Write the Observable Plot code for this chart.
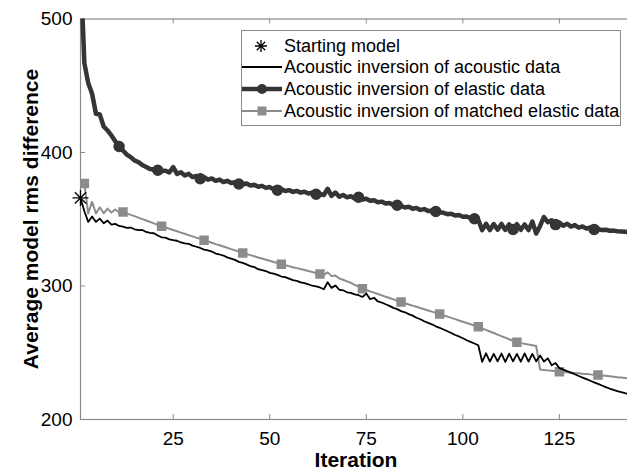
<!DOCTYPE html>
<html><head><meta charset="utf-8">
<script src="https://cdn.jsdelivr.net/npm/d3@7"></script>
<script src="https://cdn.jsdelivr.net/npm/@observablehq/plot@0.6"></script>
<style>
html,body{margin:0;padding:0;overflow:hidden;background:#fff;width:627px;height:473px}
#wrap{position:relative;width:627px;height:473px;overflow:hidden;font-family:"Liberation Sans",Arial,Helvetica,sans-serif;color:#000}
#chart{position:absolute;left:0;top:0}
.title{position:absolute;font-weight:bold;font-size:21px;white-space:nowrap;line-height:1}
#xlab{left:356px;top:449px;transform:translateX(-50%)}
#ylab{left:30px;top:219px;transform:translate(-50%,-50%) rotate(-90deg)}
#legend{position:absolute;left:241px;top:30px;width:380px;height:96px;border:1px solid #8a8a8a;background:#fff;box-sizing:border-box}
.row{position:absolute;left:0;height:22px;width:100%;font-size:18px;line-height:22px;white-space:nowrap}
.row svg{position:absolute;left:0;top:3px}
.row span{position:absolute;left:42px;top:0}
</style></head>
<body><div id="wrap"><div id="chart"></div>
<div id="ylab" class="title">Average model rms difference</div>
<div id="xlab" class="title">Iteration</div>
<div id="legend"></div>
</div>
<script>
// ---- data ----
const xTicks = [25, 50, 75, 100, 125];
const yTicks = [200, 300, 400, 500];

const startIter = [1];
const startVal = [366];

// Acoustic inversion of acoustic data, iterations 1..143
const acousticStart = 1;
const acousticVals = [366,356,348,352,348,350.5,347,349,346,346.5,345,344.5,343.5,343.8,342.5,341.8,342,340.5,339.8,339.5,
337.8,336.5,336.2,334.9,334.3,333.9,332.6,331.9,331.6,330.2,329.4,328.5,327.2,326.6,325.8,324.3,323.6,322.8,321.4,320.5,
319.6,318.1,317.3,316.2,314.8,314.2,312.6,311.9,311.2,309.8,309.2,308.3,307.1,306.6,305.5,304.4,303.9,302.7,302.1,301.3,
300.2,299.8,298.9,297.6,302.8,298.6,300.4,297.2,296.8,295.3,294.9,293.7,293.1,291.8,294.3,290.1,291.2,288.4,287.6,286.3,
285.1,283.6,282.7,281.2,280.3,278.9,277.8,276.2,275.1,273.6,272.4,271.3,269.8,268.7,267.4,266.1,264.8,263.3,262.2,260.9,
259.4,258.1,256.9,255.6,243.2,249.6,243.4,249.2,243.5,249.4,243.1,249.3,243.6,249.1,243.3,249.5,243.4,249.2,243.6,248,
243.5,245.8,240.6,242.3,238.5,237.4,236.2,235.1,233.9,232.6,231.4,230.2,229,227.8,226.7,225.5,224.3,223.2,222.2,221.3,
220.5,219.7,219];

// Acoustic inversion of elastic data, iterations 1..143
const elasticStart = 1;
const elasticVals = [540,467,452,444,429,428.5,419.5,416.5,412.8,408.5,404.5,401.5,398.4,396.5,394,392.8,390.6,389.2,387.6,387.2,
386.7,385.9,386.4,385,389,384,385.2,382.8,384,381.6,382.4,380.4,381.5,379.6,380.6,378.8,379.7,377.9,378.8,377.2,
377.8,376.4,376,376.8,375.2,375.9,374.4,375,373.5,374.1,372.4,371.8,372.6,371.2,371.8,370.5,371.2,370,370.6,369.3,
369.8,368.7,368.9,368.2,372.8,367.5,370,366.8,368.2,366.4,367.2,365.6,366.5,364.8,365.4,363.8,364.3,362.8,363.2,361.8,
362.2,360.6,360.5,360.1,358.8,359.4,357.9,358.5,357,357.6,356.1,356.6,355.8,355.2,354.8,353.8,354.1,352.8,353.2,351.8,
352.1,350.8,350.4,349.6,341.8,346.6,341.9,346.4,342.2,346.5,342,346.2,342.4,346.3,342.1,346.1,341.9,348.2,339.3,345,
351.7,347.8,349.3,346,347.5,345.2,346.6,344.5,345.6,343.7,344.6,343,343.8,342.4,342.8,341.9,342.2,341.4,341.5,341,
340.8,340.6,340.4];
const elasticMarkerIters = [11,21,32,42,52,62,73,83,93,103,113,124,134];

// Acoustic inversion of matched elastic data, iterations 2..143
const matchedStart = 2;
const matchedVals = [376.7,354.3,363,354.3,359,354.5,358,355,357.3,355,355.5,354.4,353.3,352.3,351.2,350.1,349.1,348,346.9,345.9,
344.8,343.8,342.9,341.9,341,340,339.1,338.1,337.2,336.2,335.3,334.3,333.4,332.4,331.4,330.5,329.6,328.6,327.6,326.7,
325.8,324.8,324,323.1,322.3,321.4,320.6,319.7,318.9,318,317.2,316.3,315.6,314.9,314.1,313.4,312.7,312,311.2,310.5,
309.8,309,308.3,310.2,307.4,307.8,305.6,304.7,303.5,302.4,300.8,299.6,298,297,296,295,294,293,292,291,
290,289,288,287.1,286.2,285.3,284.4,283.5,282.6,281.7,280.8,279.9,279,278,277.1,276.1,275.2,274.2,273.2,272.3,
271.3,270.4,269.4,268.2,267.1,265.9,264.8,263.6,262.4,261.3,260.1,259,257.8,257.2,256.7,256.1,255.6,255,237.4,237.1,
236.8,236.5,236.1,235.8,235.6,235.3,235.1,234.8,234.6,234.3,234.1,233.8,233.6,233.3,233,232.7,232.4,232.1,231.7,231.4,
231.1,230.8];
const matchedMarkerIters = [2,12,22,33,43,53,63,74,84,94,104,114,125,135];

const seriesNames = ["Starting model","Acoustic inversion of acoustic data","Acoustic inversion of elastic data","Acoustic inversion of matched elastic data"];

// ---- build tables ----
const toRows = (start, vals) => vals.map((v, i) => ({it: start + i, v}));
const acoustic = toRows(acousticStart, acousticVals);
const elastic = toRows(elasticStart, elasticVals);
const matched = toRows(matchedStart, matchedVals);
const elasticMarks = elastic.filter(d => elasticMarkerIters.includes(d.it));
const matchedMarks = matched.filter(d => matchedMarkerIters.includes(d.it));
const start = startIter.map((it, i) => ({it, v: startVal[i]}));

const C_DARK = "#353535", C_GRAY = "#8c8c8c", C_AXIS = "#8a8a8a";

const asterisk8 = {draw(ctx, size) {
  const r = Math.sqrt(size / Math.PI), d = r * Math.SQRT1_2;
  ctx.moveTo(-r, 0); ctx.lineTo(r, 0);
  ctx.moveTo(0, -r); ctx.lineTo(0, r);
  ctx.moveTo(-d, -d); ctx.lineTo(d, d);
  ctx.moveTo(-d, d); ctx.lineTo(d, -d);
}};

const W = 640, H = 473, ML = 80, MR = 0, MT = 18.5, MB = 54;
const plotW = W - ML - MR, plotH = H - MT - MB;

const chart = Plot.plot({
  width: W, height: H,
  marginLeft: ML, marginRight: MR, marginTop: MT, marginBottom: MB,
  style: {fontFamily: "'Liberation Sans', Arial, Helvetica, sans-serif", fontSize: "19px", color: "#000", background: "transparent", maxWidth: "none", overflow: "hidden"},
  x: {domain: [1, 146]},
  y: {domain: [200, 500]},
  marks: [
    Plot.frame({stroke: C_AXIS, strokeWidth: 1.2}),
    Plot.tickX(xTicks, {x: d => d, stroke: C_AXIS, insetTop: plotH - 5}),
    Plot.tickX(xTicks, {x: d => d, stroke: C_AXIS, insetBottom: plotH - 5}),
    Plot.tickY(yTicks, {y: d => d, stroke: C_AXIS, insetRight: plotW - 5}),
    Plot.axisX({ticks: xTicks, tickSize: 0, tickPadding: 12, fontSize: 19, label: null}),
    Plot.axisY({ticks: yTicks, tickSize: 0, tickPadding: 8, fontSize: 19, label: null}),
    Plot.line(elastic, {x: "it", y: "v", stroke: C_DARK, strokeWidth: 4.5, clip: true}),
    Plot.dot(elasticMarks, {x: "it", y: "v", r: 5, fill: C_DARK, stroke: C_DARK, clip: true}),
    Plot.line(matched, {x: "it", y: "v", stroke: C_GRAY, strokeWidth: 2, clip: true}),
    Plot.dot(matchedMarks, {x: "it", y: "v", symbol: "square", r: 4.5, fill: C_GRAY, stroke: C_GRAY, clip: true}),
    Plot.line(acoustic, {x: "it", y: "v", stroke: "#000", strokeWidth: 1.8, clip: true}),
    Plot.dot(start, {x: "it", y: "v", symbol: asterisk8, r: 8, fill: "none", stroke: "#000", strokeWidth: 1.3})
  ]
});
document.getElementById("chart").appendChild(chart);

// ---- legend ----
const legend = document.getElementById("legend");
const rowTops = [4, 25, 47, 69];
const swatches = [
  `<svg width="40" height="16"><path d="M13,8h12M19,2v12M14.8,3.8l8.4,8.4M14.8,12.2l8.4,-8.4" stroke="#000" stroke-width="1.3" fill="none"/></svg>`,
  `<svg width="40" height="16"><line x1="0" y1="8" x2="40" y2="8" stroke="#000" stroke-width="1.8"/></svg>`,
  `<svg width="40" height="16"><line x1="0" y1="8" x2="40" y2="8" stroke="${C_DARK}" stroke-width="4.5"/><circle cx="20" cy="8" r="5" fill="${C_DARK}"/></svg>`,
  `<svg width="40" height="16"><line x1="0" y1="8" x2="40" y2="8" stroke="${C_GRAY}" stroke-width="2"/><rect x="15.5" y="3.5" width="9" height="9" fill="${C_GRAY}"/></svg>`
];
seriesNames.forEach((name, i) => {
  const row = document.createElement("div");
  row.className = "row";
  row.style.top = rowTops[i] + "px";
  row.innerHTML = swatches[i] + `<span>${name}</span>`;
  legend.appendChild(row);
});
</script>
</body></html>
